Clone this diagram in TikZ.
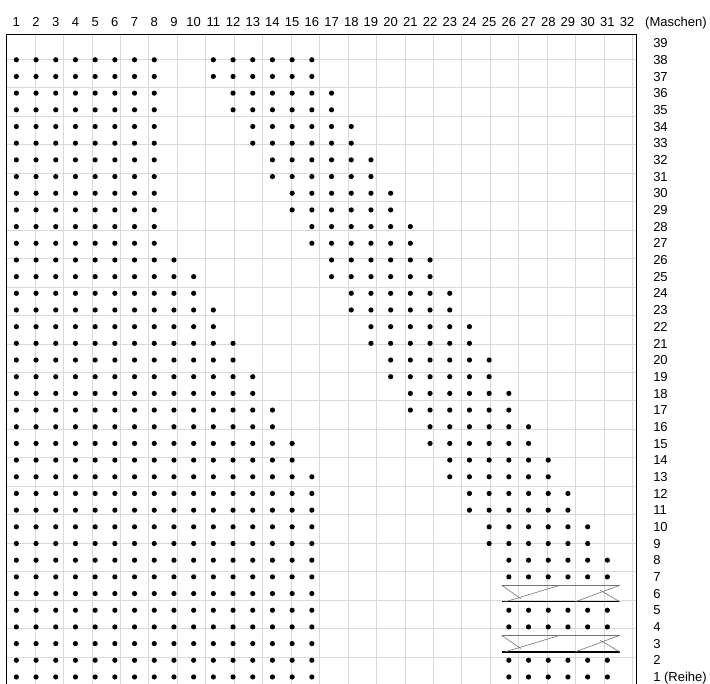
\documentclass[tikz,border=0pt]{standalone}
\usepackage{fontspec}
\setmainfont{Liberation Sans}

\begin{document}
\begin{tikzpicture}[
    x=19.7pt,
    y=16.68pt,
    font=\fontsize{13}{15}\selectfont,
    gridline/.style={
        gray!30,
        line width=0.6pt
    },
    stitch/.style={
        fill=black
    },
    numtext/.style={
        inner sep=0pt,
        anchor=base
    },
    rowtext/.style={
        inner sep=0pt,
        anchor=base west
    },
    cableline/.style={
        black!55,
        line width=0.6pt
    }
]

\useasboundingbox (-6.5pt,1.3pt) rectangle (703.5pt,685.3pt);

% --------------------------------------------------
% Grid
% --------------------------------------------------

\draw[gridline] (0,0) grid (32,39);
\draw[line width=1.1pt] (0,0) rectangle (32,39);

% --------------------------------------------------
% Column and row numbers
% --------------------------------------------------

\foreach \c in {1,...,32}
{
    \node[numtext] (col\c) at (\c-0.5,39.47) {\c};
}

\node[rowtext] (maschen) at (32.41,39.47) {(Maschen)};

\foreach \r in {2,...,39}
{
    \node[rowtext] (row\r) at (32.82,\r-0.78) {\r};
}

\node[rowtext] (row1) at (32.82,0.22) {1 (Reihe)};

% --------------------------------------------------
% Left block
% --------------------------------------------------

\foreach \r in {1,...,38}
{
    \pgfmathtruncatemacro{\last}{ifthenelse(\r<13,16,
        ifthenelse(\r<26,10+floor((25-\r)/2),ifthenelse(\r==26,9,8)))}
    \foreach \c in {1,...,\last}
        \fill[stitch] (\c-0.5,\r-0.5) circle (2.6pt);
}

% --------------------------------------------------
% Diagonal band
% --------------------------------------------------

\foreach \r in {7,...,38}
{
    \pgfmathtruncatemacro{\first}{11+floor((38-\r)/2)}
    \pgfmathtruncatemacro{\stop}{\first+5}
    \foreach \c in {\first,...,\stop}
        \fill[stitch] (\c-0.5,\r-0.5) circle (2.6pt);
}

\foreach \r in {1,2,4,5}
{
    \foreach \c in {26,...,31}
        \fill[stitch] (\c-0.5,\r-0.5) circle (2.6pt);
}

% --------------------------------------------------
% Cables (rows 3 and 6)
% --------------------------------------------------

\foreach \r in {3,6}
{
    \draw[cableline] (25.13,\r) -- (31.14,\r);
    \draw[line width=1.2pt] (25.13,\r-1) -- (31.14,\r-1);
    \draw[cableline] (25.3,\r-1) -- (28.1,\r);
    \draw[cableline] (25.13,\r) -- (26.1,\r-0.8);
    \draw[cableline] (28.86,\r-1) -- (31.14,\r);
    \draw[cableline] (30.13,\r-0.3) -- (31.14,\r-1);
}

\end{tikzpicture}
\end{document}
